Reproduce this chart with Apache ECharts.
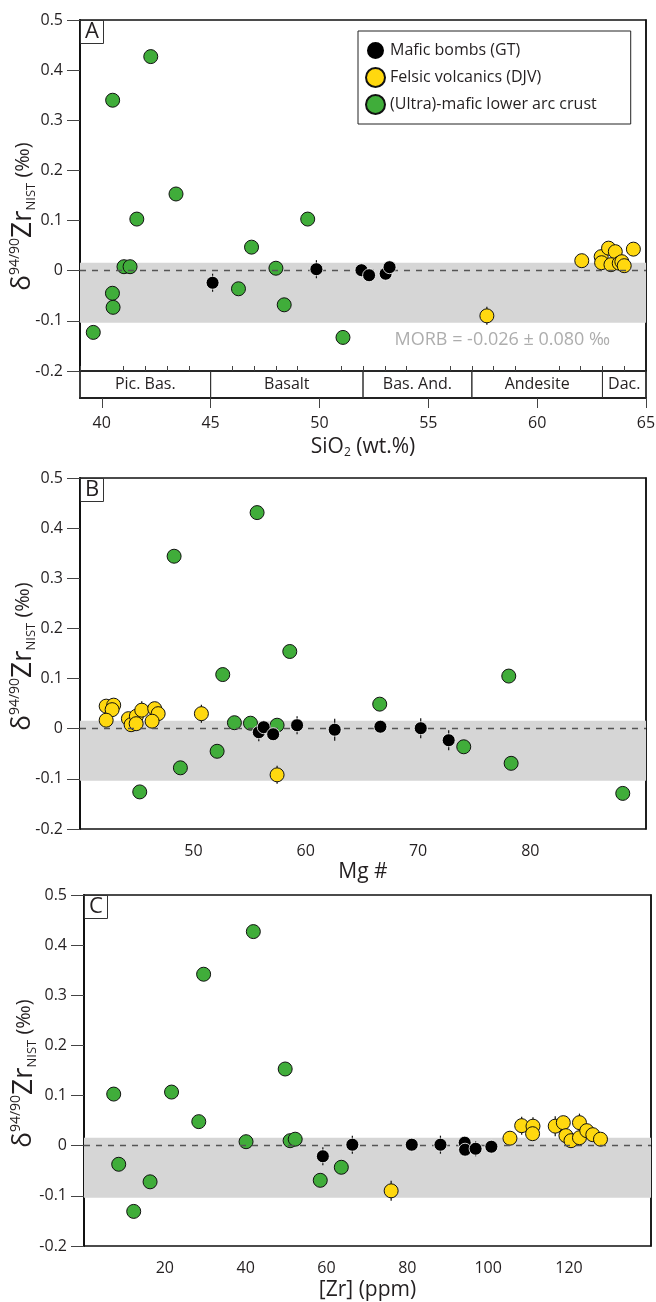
<!DOCTYPE html>
<html>
<head>
<meta charset="utf-8">
<title>Zr isotopes vs SiO2, Mg# and Zr</title>
<script src="https://cdn.jsdelivr.net/npm/echarts@6/dist/echarts.min.js"></script>
<style>
  html, body { margin: 0; padding: 0; background: #fff; }
  #chart { width: 656px; height: 1302px; }
</style>
</head>
<body>
<div id="chart"></div>
<script>
// ---- data: [x, delta94/90Zr, 2se] ----
// panel A, SiO2 (wt.%)
var siMafic = [[45.09,-0.024,0.018],[49.86,0.003,0.018],[51.93,0.001,0.010],[52.28,-0.009,0.012],[53.04,-0.006,0.010],[53.22,0.007,0.012]];
var siFelsic = [[57.69,-0.090,0.018],[62.05,0.020,0.010],[62.94,0.028,0.010],[62.96,0.016,0.010],[63.28,0.045,0.010],[63.59,0.038,0.010],
  [63.39,0.012,0.010],[63.77,0.015,0.010],[63.89,0.018,0.010],[64.00,0.010,0.010],[64.42,0.043,0.010]];
var siCrust = [[39.61,-0.123],[40.50,0.340],[40.49,-0.045],[40.52,-0.073],[41.02,0.008],[41.30,0.008],[41.61,0.103],[42.25,0.427],
  [43.41,0.153],[46.28,-0.036],[46.88,0.047],[48.00,0.005],[48.38,-0.068],[49.46,0.103],[51.08,-0.133]];

// panel B, Mg #
var mgMafic = [[55.82,-0.007,0.018],[56.26,0.003,0.010],[57.10,-0.011,0.010],[59.23,0.007,0.018],[62.58,-0.002,0.022],
  [66.65,0.004,0.010],[70.24,0.001,0.020],[72.73,-0.023,0.020]];
var mgFelsic = [[42.23,0.045,0.010],[42.90,0.047,0.010],[42.76,0.038,0.010],[42.23,0.017,0.010],[44.21,0.020,0.010],[44.45,0.008,0.010],
  [44.92,0.025,0.010],[44.90,0.010,0.010],[45.40,0.037,0.018],[46.55,0.040,0.010],[46.86,0.030,0.010],[46.32,0.015,0.010],
  [50.71,0.030,0.018],[57.45,-0.092,0.018]];
var mgCrust = [[45.22,-0.126],[48.28,0.344],[48.84,-0.078],[52.11,-0.045],[52.61,0.108],[53.65,0.012],[55.08,0.011],[55.67,0.431],
  [57.45,0.007],[58.58,0.154],[66.59,0.049],[74.07,-0.036],[78.08,0.105],[78.29,-0.069],[88.23,-0.129]];

// panel C, [Zr] (ppm)
var zrMafic = [[59.1,-0.021,0.018],[66.4,0.002,0.018],[81.1,0.002,0.010],[88.2,0.002,0.018],[94.2,0.006,0.010],[94.3,-0.008,0.010],
  [96.9,-0.006,0.015],[100.8,-0.002,0.010]];
var zrFelsic = [[76.0,-0.090,0.020],[105.4,0.015,0.010],[108.3,0.040,0.018],[111.1,0.039,0.018],[111.0,0.024,0.010],[116.6,0.039,0.020],
  [118.6,0.046,0.010],[119.25,0.020,0.010],[120.5,0.010,0.010],[122.6,0.046,0.018],[122.6,0.016,0.010],[124.4,0.030,0.010],
  [125.9,0.022,0.010],[127.8,0.013,0.010]];
var zrCrust = [[7.35,0.103],[8.59,-0.037],[12.3,-0.131],[16.35,-0.072],[21.66,0.107],[28.4,0.048],[29.6,0.342],[40.1,0.008],
  [41.9,0.427],[49.78,0.153],[51.0,0.010],[52.26,0.013],[58.46,-0.069],[63.67,-0.043]];

// rock classification bar under panel A: [from, to, name]
var rockTypes = [[39,45,'Pic. Bas.'],[45,52,'Basalt'],[52,57,'Bas. And.'],[57,63,'Andesite'],[63,65,'Dac.']];

var morbBand = [-0.104, 0.016];
var morbText = 'MORB = -0.026 ± 0.080 ‰';
var morbAt = [58.4, -0.138];

var siTicks = [40,45,50,55,60,65];
var siMinor = [39,41,42,43,44,46,47,48,49,51,52,53,54,56,57,58,59,61,62,63,64];
var mgTicks = [50,60,70,80];
var zrTicks = [20,40,60,80,100,120];

var names = ['Mafic bombs (GT)', 'Felsic volcanics (DJV)', '(Ultra)-mafic lower arc crust'];

var font = 'Open Sans';
var ink = '#231f20';

var chart = echarts.init(document.getElementById('chart'));

var yName = '{d|δ}{s|94/90}{z|Zr}{n|NIST}{p| (‰)}';
function yAxisFor(g, shift, gap) {
  return {
    gridIndex: g, min: -0.2, max: 0.5, interval: 0.1,
    name: yName, nameLocation: 'middle', nameRotate: 90, nameGap: gap, nameMoveOverlap: false,
    nameTextStyle: {
      fontFamily: font, color: ink, padding: [0, shift, 0, 0],
      rich: {
        d: { fontSize: 26, fontFamily: font, color: ink, lineHeight: 30 },
        s: { fontSize: 14, fontFamily: font, color: ink, verticalAlign: 'top', lineHeight: 14 },
        z: { fontSize: 28, fontFamily: font, color: ink, lineHeight: 30 },
        n: { fontSize: 13, fontFamily: font, color: ink, verticalAlign: 'bottom', lineHeight: 13 },
        p: { fontSize: 20, fontFamily: font, color: ink, lineHeight: 30 }
      }
    },
    axisLine: { show: true, lineStyle: { color: '#111', width: 2 } },
    axisTick: { show: true, inside: false, length: 13, lineStyle: { color: '#444' } },
    axisLabel: { margin: 17, fontSize: 16, fontFamily: font, color: ink,
      formatter: function (v) { return String(+v.toFixed(1)); } },
    splitLine: { show: false }
  };
}
function rightFrame(g) {
  return { gridIndex: g, position: 'right', min: -0.2, max: 0.5, axisLine: { show: true, lineStyle: { color: '#111', width: 1.5 } },
    axisTick: { show: false }, axisLabel: { show: false }, splitLine: { show: false } };
}
var xTitleStyle = {
  fontFamily: font, color: ink,
  rich: {
    t: { fontSize: 21, fontFamily: font, color: ink, lineHeight: 24 },
    b: { fontSize: 12, fontFamily: font, color: ink, verticalAlign: 'bottom', lineHeight: 12 }
  }
};
function bottomAxis(g, min, max, ticks, name, gap, margin, tickLen) {
  return {
    gridIndex: g, type: 'value', min: min, max: max,
    name: name, nameLocation: 'middle', nameGap: gap, nameMoveOverlap: false, nameTextStyle: xTitleStyle,
    axisLine: { show: true, lineStyle: { color: '#111', width: 2 } },
    axisTick: { show: true, length: tickLen, customValues: ticks, lineStyle: { color: '#444' } },
    axisLabel: { margin: margin, fontSize: 16, fontFamily: font, color: ink, customValues: ticks },
    splitLine: { show: false }
  };
}
function plainX(g, min, max) {
  return { gridIndex: g, type: 'value', min: min, max: max, axisLine: { show: false }, axisTick: { show: false },
    axisLabel: { show: false }, splitLine: { show: false } };
}

function errorBar(params, api) {
  var x = api.value(0), y = api.value(1), e = api.value(2);
  var p1 = api.coord([x, y - e]), p2 = api.coord([x, y + e]);
  return { type: 'line', shape: { x1: p1[0], y1: p1[1], x2: p2[0], y2: p2[1] }, style: { stroke: '#111', lineWidth: 1.2 } };
}
function rockBox(params, api) {
  var a = api.coord([api.value(0), 1]), b = api.coord([api.value(1), 0]);
  return {
    type: 'group',
    children: [
      { type: 'rect', shape: { x: a[0], y: a[1], width: b[0] - a[0], height: b[1] - a[1] },
        style: { fill: 'none', stroke: '#333', lineWidth: 1 } },
      { type: 'text', x: (a[0] + b[0]) / 2, y: (a[1] + b[1]) / 2,
        style: { text: rockTypes[params.dataIndex][2], align: 'center', verticalAlign: 'middle',
          fontSize: 16, fontFamily: font, fill: ink } }
    ]
  };
}

function panelSeries(xi, yi, mafic, felsic, crust) {
  return [
    { type: 'scatter', xAxisIndex: xi, yAxisIndex: yi, data: [], silent: true, z: 1,
      markArea: { silent: true, itemStyle: { color: '#d6d6d6' }, data: [[{ yAxis: morbBand[0] }, { yAxis: morbBand[1] }]] },
      markLine: { silent: true, symbol: 'none', label: { show: false },
        lineStyle: { color: '#555', type: [6, 6], width: 1.3 }, data: [{ yAxis: 0 }] } },
    { type: 'custom', xAxisIndex: xi, yAxisIndex: yi, renderItem: errorBar, silent: true, z: 3,
      encode: { x: 0, y: 1 }, data: mafic.concat(felsic) },
    { name: names[2], type: 'scatter', xAxisIndex: xi, yAxisIndex: yi, data: crust, symbolSize: 14, z: 4,
      itemStyle: { color: '#40ad3a', borderColor: '#111', borderWidth: 1, opacity: 1 } },
    { name: names[1], type: 'scatter', xAxisIndex: xi, yAxisIndex: yi, data: felsic, symbolSize: 14, z: 4,
      itemStyle: { color: '#ffd80f', borderColor: '#111', borderWidth: 1, opacity: 1 } },
    { name: names[0], type: 'scatter', xAxisIndex: xi, yAxisIndex: yi, data: mafic, symbolSize: 13, z: 5,
      itemStyle: { color: '#000', borderColor: '#fff', borderWidth: 0.8, opacity: 1 } }
  ];
}

var frame = { show: true, borderColor: '#111', borderWidth: 1.5, containLabel: false, outerBoundsMode: 'none' };
var panelTitle = function (t, left, top) {
  return { text: t, left: left, top: top, padding: [0, 5, 0, 5], borderWidth: 1, borderColor: '#333',
    textStyle: { fontSize: 22, lineHeight: 24, fontWeight: 'normal', fontFamily: font, color: ink } };
};

var series = []
  .concat(panelSeries(0, 0, siMafic, siFelsic, siCrust))
  .concat(panelSeries(3, 3, mgMafic, mgFelsic, mgCrust))
  .concat(panelSeries(4, 4, zrMafic, zrFelsic, zrCrust));

series.push({ type: 'custom', xAxisIndex: 1, yAxisIndex: 1, renderItem: rockBox, silent: true,
  encode: { x: [0, 1] }, data: rockTypes.map(function (r) { return [r[0], r[1]]; }) });
series.push({ type: 'scatter', xAxisIndex: 0, yAxisIndex: 0, symbolSize: 0, silent: true, data: [morbAt],
  label: { show: true, position: 'inside', formatter: morbText, fontSize: 18, fontFamily: font, color: '#999' } });

var option = {
  animation: false,
  title: [panelTitle('A', 80, 20), panelTitle('B', 80, 478), panelTitle('C', 84, 895)],
  legend: {
    data: names, orient: 'vertical', left: 358, top: 31, padding: [9, 34, 9, 7], itemGap: 6,
    itemWidth: 19, itemHeight: 19, borderColor: '#222', borderWidth: 1, backgroundColor: '#fff',
    textStyle: { fontSize: 16, fontFamily: font, color: ink }
  },
  grid: [
    Object.assign({ left: 80, top: 20, width: 566, height: 351 }, frame),
    Object.assign({ left: 80, top: 371, width: 566, height: 27 }, frame),
    Object.assign({ left: 80, top: 478, width: 566, height: 351 }, frame),
    Object.assign({ left: 84, top: 895, width: 567, height: 351 }, frame)
  ],
  xAxis: [
    plainX(0, 39, 65),
    bottomAxis(1, 39, 65, siTicks, '{t|SiO}{b|2}{t| (wt.%)}', 37, 17, 10),
    { gridIndex: 1, type: 'value', min: 39, max: 65, axisLine: { show: false },
      axisTick: { show: true, length: 5, customValues: siMinor, lineStyle: { color: '#444' } },
      axisLabel: { show: false }, splitLine: { show: false } },
    bottomAxis(2, 39.9, 90.3, mgTicks, '{t|Mg #}', 31, 14, 6),
    bottomAxis(3, 0, 140.3, zrTicks, '{t|[Zr] (ppm)}', 32, 14, 6)
  ],
  // y: [A, band, A right, B, C, B right, C right]
  yAxis: [
    yAxisFor(0, 42, 42),
    { gridIndex: 1, min: 0, max: 1, show: false },
    rightFrame(0),
    yAxisFor(2, 6, 42),
    yAxisFor(3, 6, 45),
    rightFrame(2),
    rightFrame(3)
  ],
  series: series
};

chart.setOption(option);
</script>
</body>
</html>
